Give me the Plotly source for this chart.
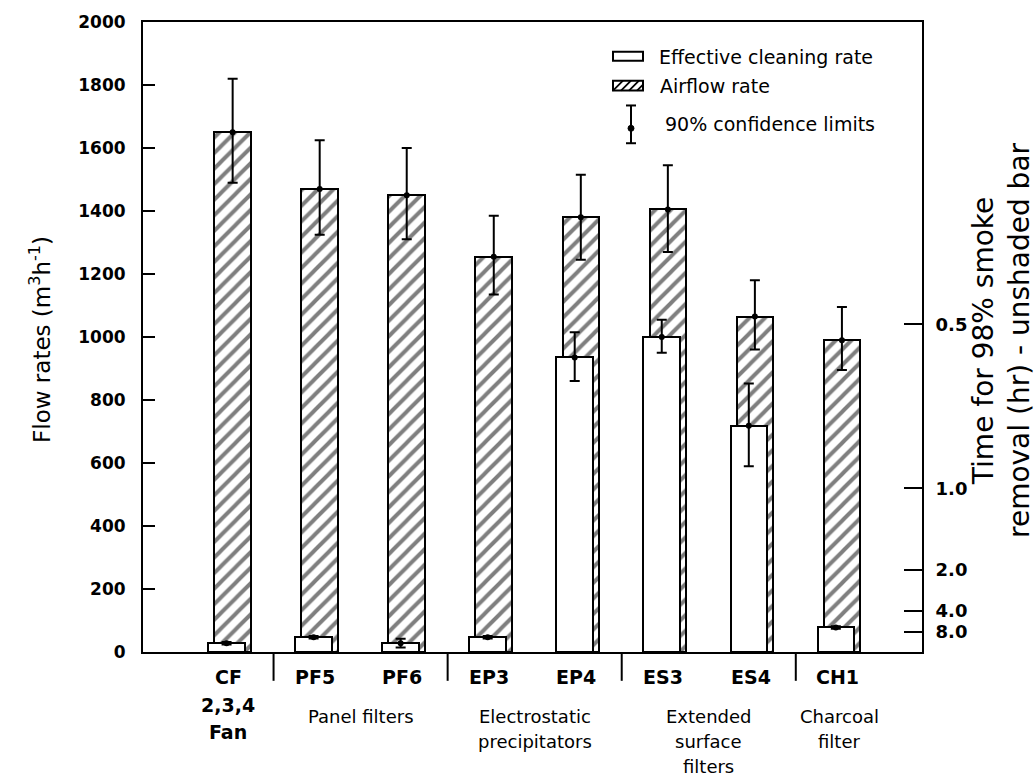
import plotly.graph_objects as go

# ---------------- data ----------------
categories = ["CF", "PF5", "PF6", "EP3", "EP4", "ES3", "ES4", "CH1"]
airflow = [1650, 1470, 1450, 1255, 1380, 1405, 1065, 990]
airflow_err_plus = [170, 155, 150, 130, 135, 140, 115, 105]
airflow_err_minus = [160, 145, 140, 120, 135, 135, 105, 95]
cleaning = [28, 47, 28, 47, 935, 1000, 718, 78]
cleaning_err_plus = [4, 4, 14, 4, 80, 55, 134, 4]
cleaning_err_minus = [4, 4, 14, 4, 75, 50, 128, 4]
y_ticks = [0, 200, 400, 600, 800, 1000, 1200, 1400, 1600, 1800, 2000]
time_labels = ["0.5", "1.0", "2.0", "4.0", "8.0"]
time_hours = [0.5, 1.0, 2.0, 4.0, 8.0]
flow_per_hour = 520  # flow giving 98% removal in 1 h
cf_sub_lines = ["2,3,4", "Fan"]
group_lines = [["Panel filters"], ["Electrostatic", "precipitators"],
               ["Extended", "surface", "filters"], ["Charcoal", "filter"]]
group_members = [[1, 2], [3, 4], [5, 6], [7]]

# ---------------- layout helpers ----------------
W, H = 1035, 778
L, R, T, B = 143, 922, 18, 652
FONT = "DejaVu Sans"


def px(x):
    return (x - L) / (R - L)


def py(y):
    return (B - y) / (B - T)


xi = list(range(len(categories)))
x_white = [i - 0.07 for i in xi]
BW = 0.42

fig = go.Figure()
fig.add_trace(go.Bar(
    x=xi, y=airflow, width=BW, showlegend=False, hoverinfo="skip",
    marker=dict(color="white", line=dict(color="black", width=2),
                pattern=dict(shape="/", fgcolor="black", bgcolor="white",
                             size=11, solidity=0.36))))
fig.add_trace(go.Bar(
    x=x_white, y=cleaning, width=BW, showlegend=False, hoverinfo="skip",
    marker=dict(color="white", line=dict(color="black", width=2))))
fig.add_trace(go.Scatter(
    x=xi, y=airflow, mode="markers", showlegend=False, hoverinfo="skip",
    marker=dict(color="black", size=6),
    error_y=dict(type="data", symmetric=False, array=airflow_err_plus,
                 arrayminus=airflow_err_minus, color="black", thickness=2, width=5)))
fig.add_trace(go.Scatter(
    x=x_white, y=cleaning, mode="markers", showlegend=False, hoverinfo="skip",
    marker=dict(color="black", size=6),
    error_y=dict(type="data", symmetric=False, array=cleaning_err_plus,
                 arrayminus=cleaning_err_minus, color="black", thickness=2, width=5)))
# invisible trace to activate the right axis
fig.add_trace(go.Scatter(x=[0], y=[0], yaxis="y2", mode="markers",
                         marker=dict(opacity=0), showlegend=False, hoverinfo="skip"))

annotations = []
shapes = []

# category labels
for i, c in enumerate(categories):
    annotations.append(dict(x=i - 0.05, xref="x", y=py(677), yref="paper", text=c,
                            showarrow=False,
                            font=dict(family=FONT, size=19, color="black", weight="bold"),
                            xanchor="center", yanchor="middle"))
for k, line in enumerate(cf_sub_lines):
    annotations.append(dict(x=-0.05, xref="x", y=py(705 + 28 * k), yref="paper", text=line,
                            showarrow=False,
                            font=dict(family=FONT, size=19, color="black", weight="bold"),
                            xanchor="center", yanchor="middle"))
for lines, mem in zip(group_lines, group_members):
    gx = sum(mem) / len(mem) - 0.03
    for k, line in enumerate(lines):
        annotations.append(dict(x=gx, xref="x", y=py(717 + 25 * k), yref="paper", text=line,
                                showarrow=False, font=dict(family=FONT, size=18, color="black"),
                                xanchor="center", yanchor="middle"))
# group dividers below the axis
for mem in group_members:
    bx = mem[0] - 0.53
    shapes.append(dict(type="line", xref="x", yref="paper", x0=bx, x1=bx,
                       y0=py(653), y1=py(681), line=dict(color="black", width=2)))

# axis titles
annotations.append(dict(x=px(40), y=py(338), xref="paper", yref="paper",
                        text="Flow rates (m<sup>3</sup>h<sup>-1</sup>)", textangle=-90,
                        showarrow=False, font=dict(family=FONT, size=23, color="black"),
                        xanchor="center", yanchor="middle"))
annotations.append(dict(x=px(1002), y=py(338), xref="paper", yref="paper",
                        text="Time for 98% smoke<br>removal (hr) - unshaded bar", textangle=-90,
                        showarrow=False, font=dict(family=FONT, size=28, color="black"),
                        xanchor="center", yanchor="middle"))

# legend
shapes.append(dict(type="rect", xref="paper", yref="paper", x0=px(613), x1=px(643),
                   y0=py(57), y1=py(48), line=dict(color="black", width=2), fillcolor="white"))
shapes.append(dict(type="rect", xref="paper", yref="paper", x0=px(613), x1=px(643),
                   y0=py(87), y1=py(77), line=dict(color="black", width=2), fillcolor="white"))
for sx in [613, 621, 629]:
    shapes.append(dict(type="line", xref="paper", yref="paper", x0=px(sx), x1=px(sx + 10),
                       y0=py(87), y1=py(77), line=dict(color="black", width=1.8)))
shapes.append(dict(type="line", xref="paper", yref="paper", x0=px(637), x1=px(643),
                   y0=py(87), y1=py(81), line=dict(color="black", width=1.8)))
shapes.append(dict(type="line", xref="paper", yref="paper", x0=px(631), x1=px(631),
                   y0=py(140), y1=py(102), line=dict(color="black", width=2)))
for cy in [102, 140]:
    shapes.append(dict(type="line", xref="paper", yref="paper", x0=px(626), x1=px(636),
                       y0=py(cy), y1=py(cy), line=dict(color="black", width=2)))
shapes.append(dict(type="circle", xref="paper", yref="paper", x0=px(628), x1=px(634),
                   y0=py(128), y1=py(122), line=dict(color="black", width=1), fillcolor="black"))
for tx, ty, txt in [(657, 53, "Effective cleaning rate"), (658, 82, "Airflow rate"),
                    (663, 121, "90% confidence limits")]:
    annotations.append(dict(x=px(tx), y=py(ty), xref="paper", yref="paper", text=txt,
                            showarrow=False, font=dict(family=FONT, size=19, color="black"),
                            xanchor="left", yanchor="middle"))

fig.update_layout(
    width=W, height=H, margin=dict(l=L, r=W - R, t=T, b=H - B, pad=0),
    paper_bgcolor="white", plot_bgcolor="white", barmode="overlay", bargap=0,
    showlegend=False, annotations=annotations, shapes=shapes,
    xaxis=dict(range=[-1.03, 7.92], showline=True, linecolor="black", linewidth=2,
               mirror=True, showticklabels=False, ticks="", showgrid=False, zeroline=False),
    yaxis=dict(range=[0, 2000], tickvals=y_ticks, ticks="inside", ticklen=12, tickwidth=2,
               tickcolor="black", showline=True, linecolor="black", linewidth=2,
               showgrid=False, zeroline=False, ticklabelstandoff=12,
               tickfont=dict(family=FONT, size=17, color="black", weight="bold")),
    yaxis2=dict(range=[0, 2000], overlaying="y", side="right",
                tickvals=[flow_per_hour / t for t in time_hours], ticktext=time_labels,
                ticks="inside", ticklen=18, tickwidth=2, tickcolor="black",
                showline=True, linecolor="black", linewidth=2, showgrid=False,
                zeroline=False, ticklabelstandoff=8,
                tickfont=dict(family=FONT, size=18, color="black", weight="bold")),
)

fig.write_html("out.html")
